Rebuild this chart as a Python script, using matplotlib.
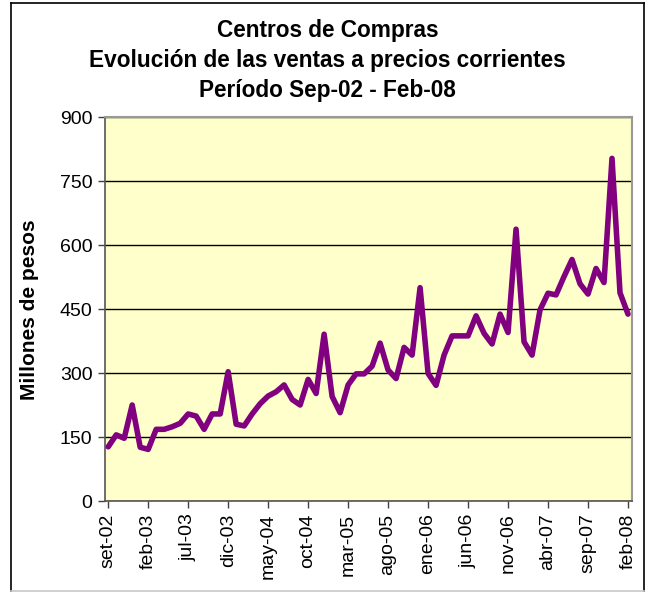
import matplotlib
matplotlib.use("Agg")
import matplotlib.pyplot as plt
from matplotlib.lines import Line2D

plt.rcParams['font.family'] = ['Liberation Sans', 'DejaVu Sans']

title_lines = ["Centros de Compras",
               "Evolución de las ventas a precios corrientes",
               "Período Sep-02 - Feb-08"]
ylabel = "Millones de pesos"

# Monthly sales, Sep-02 .. Feb-08 (66 months)
ventas = [127, 155, 147, 225, 126, 121, 168, 168, 174, 182,
          204, 199, 168, 204, 204, 303, 180, 176, 204, 228,
          246, 256, 272, 238, 225, 285, 252, 391, 245, 207,
          272, 298, 298, 316, 370, 307, 287, 360, 342, 500,
          299, 271, 342, 387, 387, 387, 434, 393, 368, 438,
          395, 637, 373, 342, 448, 487, 483, 526, 566, 509,
          485, 545, 512, 803, 488, 438]

tick_labels = ["set-02", "feb-03", "jul-03", "dic-03", "may-04", "oct-04",
               "mar-05", "ago-05", "ene-06", "jun-06", "nov-06", "abr-07",
               "sep-07", "feb-08"]
y_ticks = [0, 150, 300, 450, 600, 750, 900]

W, H = 646, 592
fig = plt.figure(figsize=(W / 100, H / 100), dpi=100)
fig.patch.set_facecolor("white")

def fx(px):
    return px / W

def fy(py):
    return 1 - py / H

# chart-area border
for (x0, y0, x1, y1, c) in [(11, 3, 644, 3, "black"), (11, 3, 11, 591, "black"),
                            (644, 3, 644, 591, "black"), (11, 591, 644, 591, "#c8c8c8")]:
    fig.lines.append(Line2D([fx(x0), fx(x1)], [fy(y0), fy(y1)], transform=fig.transFigure,
                            color=c, linewidth=1.2))

left, right, top, bottom = 105, 632, 117, 501
ax = fig.add_axes([fx(left), fy(bottom), (right - left) / W, (bottom - top) / H])
ax.set_facecolor("#FFFFCC")

x = list(range(len(ventas)))
ax.plot(x, ventas, color="#800080", linewidth=4.0, solid_joinstyle="round",
        solid_capstyle="round", zorder=3)

ax.set_ylim(0, 900)
ax.set_xlim(-0.4, 65.5)
ax.set_yticks(y_ticks)
ax.set_yticklabels([str(v) for v in y_ticks], fontsize=14)
ax.set_xticks(list(range(0, 66, 5)))
ax.set_xticklabels(tick_labels, rotation=90, fontsize=14)
ax.tick_params(axis="both", direction="out", length=5, width=1, color="#404040", pad=4)
ax.grid(axis="y", color="black", linewidth=1)
ax.set_axisbelow(True)
for s in ["top", "right"]:
    ax.spines[s].set_color("#999999")
    ax.spines[s].set_linewidth(1.5)
for s in ["left", "bottom"]:
    ax.spines[s].set_color("#555555")
    ax.spines[s].set_linewidth(1.2)

fig.text(fx(30), fy(310), ylabel, rotation=90, ha="center", va="center",
         fontsize=15, fontweight="bold")

for t, yy in zip(title_lines, [30, 60, 91]):
    fig.text(fx((11 + 644) / 2), fy(yy), t, ha="center", va="center",
             fontsize=16.3, fontweight="bold")

fig.savefig("out.png", dpi=100)
